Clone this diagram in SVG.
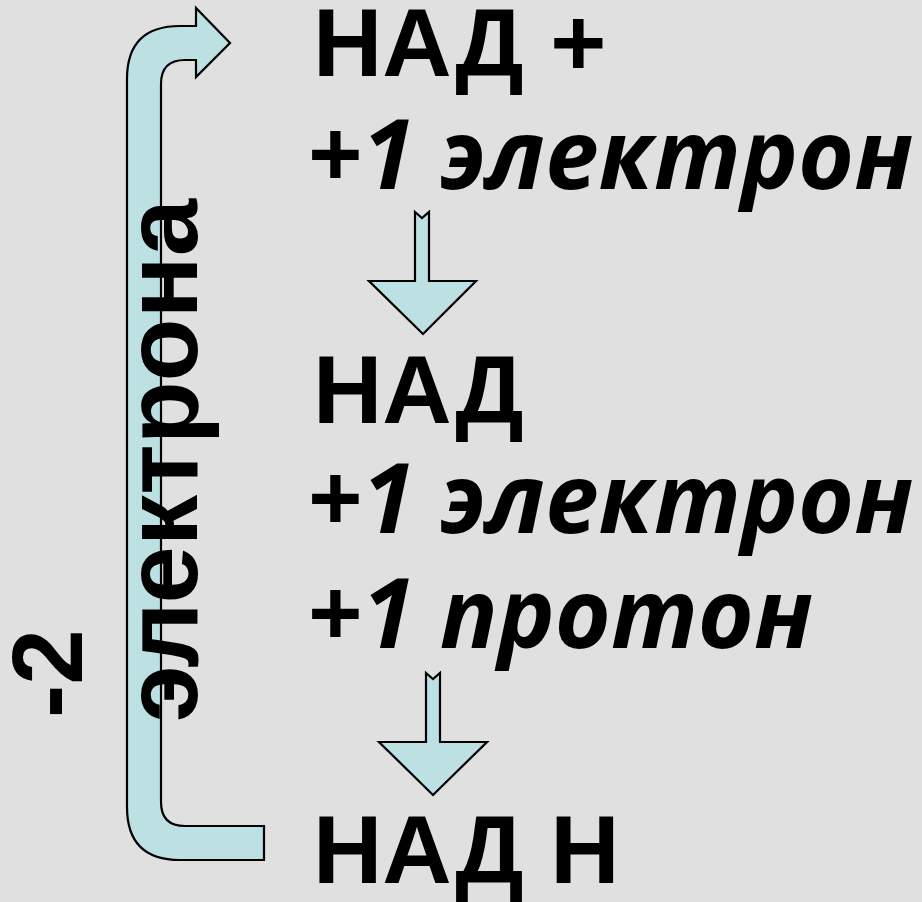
<svg xmlns="http://www.w3.org/2000/svg" width="922" height="902" viewBox="0 0 922 902">
<style>
.bg{fill:#e0e0e0}
.arr{fill:#bde0e3;stroke:#000;stroke-width:2.2;stroke-linejoin:miter}
.big{font-family:"Liberation Sans",Arial,sans-serif;font-weight:bold;font-size:96px;fill:#000}
.it{font-family:"Open Sans","Noto Sans",sans-serif;font-weight:bold;font-style:italic;font-size:96px;fill:#000}
.vt{font-family:"Liberation Sans",Arial,sans-serif;font-weight:bold;font-size:100px;fill:#000}
.vt2{font-family:"Liberation Sans",Arial,sans-serif;font-weight:bold;font-size:103px;fill:#000}
</style>
<rect class="bg" x="0" y="0" width="922" height="902"/>
<g id="connectors">
<path id="return-arrow" class="arr" d="M264,826 L185,826 Q161,826 161,802 L161,84 Q161,60 185,60 L196,60 L196,77 L230,43 L196,8 L196,26 L180,26 Q127,26 127,79 L127,807 Q127,860 180,860 L264,860 Z"/>
<path id="down-arrow-1" class="arr" d="M415,212 L422,218 L429,212 L429,281 L476,281 L423,334 L369,281 L415,281 Z"/>
<path id="down-arrow-2" class="arr" d="M426,673 L433,679 L440,673 L440,742 L487,742 L433,795 L379,742 L426,742 Z"/>
</g>
<g id="label-minus2"><text class="vt" transform="translate(82,718) rotate(-90)">-2</text></g>
<g id="label-electrona"><text class="vt2" transform="translate(197,722) rotate(-90)">электрона</text></g>
<g id="node-nad-plus">
<text class="big" x="313" y="76">НАД +</text>
<text class="it" x="307" y="189">+1 электрон</text>
</g>
<g id="node-nad">
<text class="big" x="313" y="423">НАД</text>
<text class="it" x="307" y="533">+1 электрон</text>
<text class="it" x="307" y="648">+1 протон</text>
</g>
<g id="node-nadh">
<text class="big" x="313" y="883">НАД Н</text>
</g>
</svg>
